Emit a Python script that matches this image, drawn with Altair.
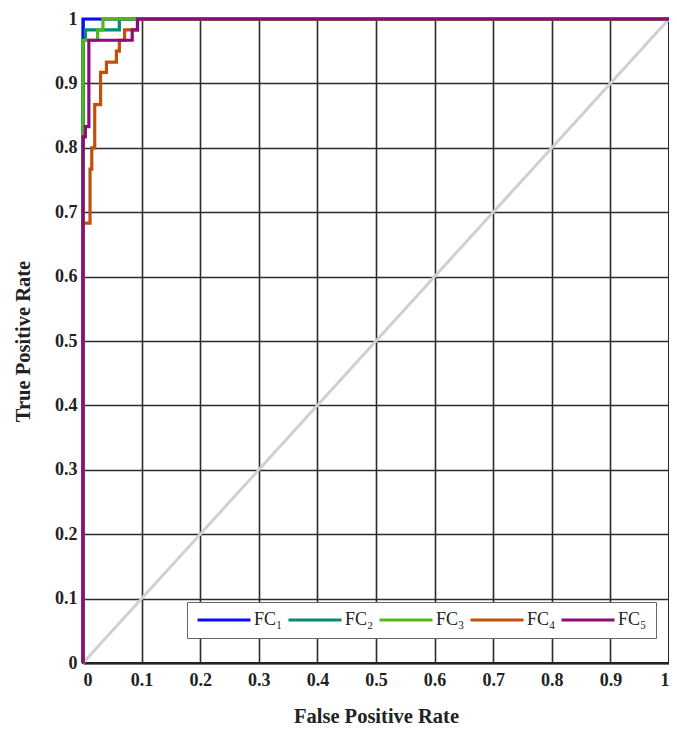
import altair as alt
import pandas as pd

series = ["FC₁", "FC₂", "FC₃", "FC₄", "FC₅"]
colors = ["#0a0aff", "#078a73", "#52b81a", "#c0500c", "#8e0b7e"]

fc1_fpr = [0, 0, 1]
fc1_tpr = [0, 1, 1]

fc2_fpr = [0, 0, 0.004, 0.004, 0.062, 0.062, 1]
fc2_tpr = [0, 0.967, 0.967, 0.983, 0.983, 1, 1]

fc3_fpr = [0, 0, 0.025, 0.025, 0.034, 0.034, 1]
fc3_tpr = [0, 0.967, 0.967, 0.983, 0.983, 1, 1]

fc4_fpr = [0, 0, 0.012, 0.012, 0.015, 0.015, 0.02, 0.02, 0.03, 0.03, 0.04, 0.04,
           0.057, 0.057, 0.062, 0.062, 0.071, 0.071, 0.093, 0.093, 1]
fc4_tpr = [0, 0.683, 0.683, 0.767, 0.767, 0.8, 0.8, 0.867, 0.867, 0.917, 0.917, 0.933,
           0.933, 0.95, 0.95, 0.967, 0.967, 0.983, 0.983, 1, 1]

fc5_fpr = [0, 0, 0.004, 0.004, 0.01, 0.01, 0.084, 0.084, 0.093, 0.093, 1]
fc5_tpr = [0, 0.817, 0.817, 0.833, 0.833, 0.967, 0.967, 0.983, 0.983, 1, 1]

diag_fpr = [0, 1]
diag_tpr = [0, 1]

tick_values = [0, 0.1, 0.2, 0.3, 0.4, 0.5, 0.6, 0.7, 0.8, 0.9, 1]

curves = [(series[0], fc1_fpr, fc1_tpr), (series[1], fc2_fpr, fc2_tpr),
          (series[2], fc3_fpr, fc3_tpr), (series[3], fc4_fpr, fc4_tpr),
          (series[4], fc5_fpr, fc5_tpr)]

rows = []
for name, fx, fy in curves:
    for i, (a, b) in enumerate(zip(fx, fy)):
        rows.append({"series": name, "fpr": a, "tpr": b, "order": i})
df = pd.DataFrame(rows)
diag = pd.DataFrame({"fpr": diag_fpr, "tpr": diag_tpr})

FONT = "Liberation Serif"

xscale = alt.Scale(domain=[0, 1], nice=False, zero=False)
yscale = alt.Scale(domain=[0, 1], nice=False, zero=False)

xaxis = alt.Axis(values=tick_values, format=".1~f", title="False Positive Rate",
                 titleY=59, titleBaseline="alphabetic")
yaxis = alt.Axis(values=tick_values, format=".1~f", title="True Positive Rate",
                 titleX=-54, titleBaseline="alphabetic")

diag_layer = alt.Chart(diag).mark_line(color="#d0d0d0", strokeWidth=3).encode(
    x=alt.X("fpr:Q", scale=xscale, axis=xaxis),
    y=alt.Y("tpr:Q", scale=yscale, axis=yaxis),
)

legend = alt.Legend(
    title=None, orient="none", legendX=104, legendY=583, direction="horizontal",
    symbolType="stroke", symbolSize=2809, symbolStrokeWidth=3,
    labelFont=FONT, labelFontSize=18, labelColor="#222222", labelOffset=2,
    padding=9, strokeColor="#666666", fillColor="white",
    cornerRadius=0,
)

layers = [diag_layer]
for name in series:
    layers.append(
        alt.Chart(df).transform_filter(alt.datum.series == name)
        .mark_line(strokeWidth=3.2)
        .encode(
            x=alt.X("fpr:Q", scale=xscale),
            y=alt.Y("tpr:Q", scale=yscale),
            color=alt.Color("series:N", scale=alt.Scale(domain=series, range=colors),
                            legend=legend),
            order=alt.Order("order:Q"),
        )
    )

chart = alt.layer(*layers).properties(
    width=586, height=644,
    autosize=alt.AutoSizeParams(type="none"),
    padding={"left": 75, "top": 11, "right": 0, "bottom": 66},
).configure_axis(
    labelFont=FONT, labelFontSize=18, labelFontWeight="bold", labelColor="#222222",
    titleFont=FONT, titleFontSize=20.5, titleFontWeight="bold", titleColor="#222222",
    grid=True, gridColor="#2b2b2b", gridWidth=1.6, gridOpacity=1,
    ticks=False, domainColor="#222222", domainWidth=2,
).configure_axisX(labelPadding=8).configure_axisY(labelPadding=6).configure_legend(
    columnPadding=4, clipHeight=18
).configure_view(
    stroke="#222222", strokeWidth=2
)

chart.save("out.html", embed_options={"renderer": "svg", "actions": False})
